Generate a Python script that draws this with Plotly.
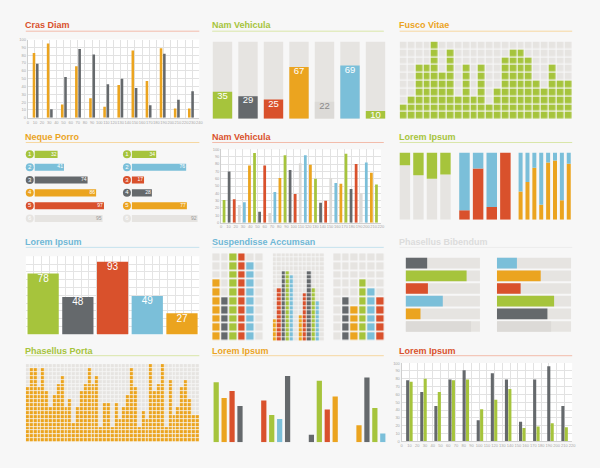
import plotly.graph_objects as go

W, H = 600, 468
GREEN = '#a6c43c'
ORANGE = '#eba41f'
GRAY = '#65696c'
RED = '#d9512c'
BLUE = '#7bbfd9'
LGRAY = '#e6e4e1'
LGRAY2 = '#dcdad7'
BG = '#f7f7f7'
TXT = '#9a9a9a'

# ---------------- data ----------------
cras_orange = [83, 95, 17, 66, 25, 14, 42, 86, 47, 89, 12, 12]
cras_gray = [69, 11, 52, 88, 81, 43, 50, 38, 16, 82, 23, 34]

nv_values = [35, 29, 25, 67, 22, 69, 10]
nv_colors = [GREEN, GRAY, RED, ORANGE, LGRAY2, BLUE, GREEN]

fusco_heights = [2, 3, 7, 7, 10, 6, 9, 3, 7, 3, 7, 2, 4, 8, 9, 9, 8, 5, 4, 7, 5, 5]

neque_left = [32, 41, 74, 86, 97, 95]
neque_left_colors = [GREEN, BLUE, GRAY, ORANGE, RED, LGRAY]
neque_right = [34, 76, 17, 28, 77, 92]
neque_right_colors = [GREEN, BLUE, RED, GRAY, ORANGE, LGRAY]
neque_numbers = ['1', '2', '3', '4', '5', '6']

nv2_values = [31, 70, 32, 24, 28, 78, 95, 15, 78, 13, 42, 61, 92, 72, 39, 81,
              92, 79, 60, 27, 30, 61, 54, 53, 94, 46, 80, 40, 82, 68, 52]
nv2_cycle = [GREEN, GRAY, RED, LGRAY2, BLUE, ORANGE]

lorem1_a = [81, 66, 61, 67]
lorem1_b = [14, 76, 19, 100]
lorem1_c = [42, 56, 77, 22, 85, 88, 29, 83]

lorem2_values = [78, 48, 93, 49, 27]
lorem2_colors = [GREEN, GRAY, RED, BLUE, ORANGE]

susp_a_heights = [7, 5, 10, 10, 9, 0]
susp_a_colors = [ORANGE, GRAY, GREEN, RED, BLUE, None]
susp_b_heights = [5, 12, 16, 16, 15, 0, 6, 11, 16, 12, 9, 0]
susp_b_colors = [ORANGE, RED, GRAY, GREEN, BLUE, None, ORANGE, RED, GRAY, GREEN, BLUE, None]
susp_c_heights = [0, 5, 4, 7, 6, 5]
susp_c_colors = [None, GRAY, ORANGE, GREEN, BLUE, RED]

phas_left = [29, 82, 30, 50, 20, 88]
phas_left_colors = [GRAY, GREEN, RED, BLUE, ORANGE, LGRAY2]
phas_right = [27, 59, 32, 77, 68, 73]
phas_right_colors = [BLUE, ORANGE, RED, GREEN, GRAY, LGRAY2]

porta_heights = [14, 19, 19, 14, 19, 13, 9, 12, 15, 17, 9, 11, 5, 9, 13, 15, 19, 15, 17, 4,
                 10, 10, 4, 10, 6, 9, 12, 19, 14, 4, 8, 6, 20, 13, 15, 20, 4, 16, 7, 9,
                 14, 16, 11, 7, 7]

lorem3_groups = [[88, 65, 75, 53], [61, 40, 34, 97], [11, 90, 48, 67], [25, 95, 50, 13]]
lorem3_colors = [[GREEN, ORANGE, RED, GRAY], [RED, GREEN, BLUE, GRAY],
                 [GRAY, GREEN, RED, ORANGE], [ORANGE, GRAY, GREEN, BLUE]]

lorem4_gray = [78, 63, 45, 79, 91, 27, 87, 79, 25, 79, 96, 45]
lorem4_green = [76, 80, 63, 78, 79, 41, 53, 67, 17, 19, 23, 18]

titles = [
    ('Cras Diam', RED, '#f2bcab', 25, 200, 22.5, 28.5),
    ('Nam Vehicula', GREEN, '#d9e6a8', 213, 386, 22.5, 28.5),
    ('Fusco Vitae', ORANGE, '#f6d7a0', 402, 576, 22.5, 28.5),
    ('Neque Porro', ORANGE, '#f6d7a0', 25, 200, 135.5, 141),
    ('Nam Vehicula', RED, '#f2bcab', 213, 386, 135.5, 141),
    ('Lorem Ipsum', GREEN, '#d9e6a8', 402, 576, 135.5, 141),
    ('Lorem Ipsum', '#6fb8d6', '#c6e3ee', 25, 200, 241.8, 247),
    ('Suspendisse Accumsan', '#6fb8d6', '#c6e3ee', 213, 386, 241.8, 247),
    ('Phasellus Bibendum', '#dcdcdc', '#ececec', 402, 576, 241.8, 247),
    ('Phasellus Porta', GREEN, '#d9e6a8', 25, 200, 351.5, 356.5),
    ('Lorem Ipsum', ORANGE, '#f6d7a0', 213, 386, 351.5, 356.5),
    ('Lorem Ipsum', RED, '#f2bcab', 402, 576, 351.5, 356.5),
]

# ---------------- helpers ----------------
fig = go.Figure()
axn = [0]
layout_upd = {}
shapes = []
annotations = []


def axes(px0, px1, py0, py1, xr, yr, xkw=None, ykw=None):
    axn[0] += 1
    n = axn[0]
    s = '' if n == 1 else str(n)
    xk = dict(domain=[px0 / W, px1 / W], range=xr, anchor='y' + s, showgrid=False,
              zeroline=False, showticklabels=False, ticks='', fixedrange=True, showline=False)
    yk = dict(domain=[1 - py1 / H, 1 - py0 / H], range=yr, anchor='x' + s, showgrid=False,
              zeroline=False, showticklabels=False, ticks='', fixedrange=True, showline=False)
    if xkw:
        xk.update(xkw)
    if ykw:
        yk.update(ykw)
    layout_upd['xaxis' + s] = xk
    layout_upd['yaxis' + s] = yk
    return 'x' + s, 'y' + s


def white_rect(px0, px1, py0, py1):
    shapes.append(dict(type='rect', xref='paper', yref='paper', layer='below',
                       x0=px0 / W, x1=px1 / W, y0=1 - py1 / H, y1=1 - py0 / H,
                       fillcolor='white', line=dict(width=0)))


def grid_axis_kw(dtick, labels=True):
    d = dict(showgrid=True, gridcolor='#e2e2e2', gridwidth=1, dtick=dtick, tick0=0,
             showline=True, linecolor='#cfcfcf', linewidth=1)
    if labels:
        d.update(showticklabels=True, tickfont=dict(size=4, color='#a8a8a8',
                 family='Liberation Sans'), tickangle=0, ticklen=0)
    return d


def discrete_scale(colors):
    n = len(colors)
    cs = []
    for i, c in enumerate(colors):
        cs.append([i / n, c])
        cs.append([(i + 1) / n, c])
    return cs


def cell_heatmap(xa, ya, heights, colors, nrows, gap):
    palette = [LGRAY] + [c for c in colors if c is not None]
    uniq = []
    for c in palette:
        if c not in uniq:
            uniq.append(c)
    idx = {c: i for i, c in enumerate(uniq)}
    z = []
    for r in range(nrows):
        row = []
        for h, c in zip(heights, colors):
            row.append(idx[c] if (c is not None and r < h) else 0)
        z.append(row)
    fig.add_trace(go.Heatmap(z=z, xaxis=xa, yaxis=ya, colorscale=discrete_scale(uniq),
                             zmin=-0.5, zmax=len(uniq) - 0.5, showscale=False,
                             xgap=gap, ygap=gap, hoverinfo='skip'))


FONT = 'Liberation Sans'

# ---------------- titles ----------------
for t, c, lc, x0, x1, ty, ly in titles:
    annotations.append(dict(text='<b>' + t + '</b>', x=(x0 - 2.5) / W, y=1 - ty / H, xref='paper',
                            yref='paper', xanchor='left', yanchor='middle', showarrow=False,
                            font=dict(size=9, color=c, family=FONT)))
    shapes.append(dict(type='line', xref='paper', yref='paper', x0=x0 / W, x1=x1 / W,
                       y0=1 - ly / H, y1=1 - ly / H, line=dict(color=lc, width=1)))

# ---------------- Panel 1: Cras Diam ----------------
white_rect(27, 200, 37, 116)
xa, ya = axes(27, 200, 37, 116, [0, 240], [0, 100], grid_axis_kw(10), grid_axis_kw(10))
pos = [11 + 19.75 * i for i in range(len(cras_orange))]
fig.add_trace(go.Bar(x=[p - 2.3 for p in pos], y=cras_orange, width=3.6, marker_color=ORANGE,
                     marker_line_width=0, xaxis=xa, yaxis=ya, hoverinfo='skip'))
fig.add_trace(go.Bar(x=[p + 2.3 for p in pos], y=cras_gray, width=3.6, marker_color=GRAY,
                     marker_line_width=0, xaxis=xa, yaxis=ya, hoverinfo='skip'))

# ---------------- Panel 2: Nam Vehicula columns ----------------
xa, ya = axes(210.5, 390.5, 39, 117, [-0.5, 6.5], [0, 100])
idx = list(range(len(nv_values)))
fig.add_trace(go.Bar(x=idx, y=[100] * len(idx), width=0.76, marker_color=LGRAY,
                     marker_line_width=0, xaxis=xa, yaxis=ya, hoverinfo='skip'))
fig.add_trace(go.Bar(x=idx, y=nv_values, width=0.76, marker_color=nv_colors,
                     marker_line_width=0, xaxis=xa, yaxis=ya, hoverinfo='skip'))
fig.add_trace(go.Scatter(x=idx, y=nv_values, mode='text', text=[str(v) for v in nv_values],
                         textposition='bottom center', xaxis=xa, yaxis=ya, hoverinfo='skip',
                         textfont=dict(size=9.5, family=FONT,
                                       color=['#8a8a8a' if c == LGRAY2 else 'white' for c in nv_colors])))

# ---------------- Panel 3: Fusco Vitae ----------------
xa, ya = axes(402, 576, 39, 118, [-0.5, len(fusco_heights) - 0.5], [-0.5, 9.5])
cell_heatmap(xa, ya, fusco_heights, [GREEN] * len(fusco_heights), 10, 1.2)

# ---------------- Panel 4: Neque Porro ----------------
for (vals, cols, px0) in [(neque_left, neque_left_colors, 34), (neque_right, neque_right_colors, 132)]:
    scale = 0.72
    xa, ya = axes(px0 - 12, px0 + 75, 146.5, 225, [-12 / scale, 75 / scale], [5.55, -0.5])
    rows = list(range(len(vals)))
    fig.add_trace(go.Bar(x=vals, y=rows, orientation='h', width=0.55, marker_color=cols,
                         marker_line_width=0, xaxis=xa, yaxis=ya, hoverinfo='skip'))
    fig.add_trace(go.Scatter(x=[v - 1.5 for v in vals], y=rows, mode='text',
                             text=[str(v) for v in vals], textposition='middle left',
                             textfont=dict(size=5, family=FONT,
                                           color=['#9a9a9a' if c == LGRAY else 'white' for c in cols]),
                             xaxis=xa, yaxis=ya, hoverinfo='skip', cliponaxis=False))
    fig.add_trace(go.Scatter(x=[-5 / scale] * len(vals), y=rows, mode='markers+text',
                             marker=dict(size=8, color=cols, line=dict(width=0)),
                             text=neque_numbers, textposition='middle center',
                             textfont=dict(size=6, color='white', family=FONT),
                             xaxis=xa, yaxis=ya, hoverinfo='skip', cliponaxis=False))

# ---------------- Panel 5: Nam Vehicula bars ----------------
white_rect(222, 383, 148, 222)
xa, ya = axes(222, 383, 148, 222, [0, 220], [0, 100], grid_axis_kw(10), grid_axis_kw(10))
nv2_x = [4 + 7 * i for i in range(len(nv2_values))]
nv2_c = [nv2_cycle[i % len(nv2_cycle)] for i in range(len(nv2_values))]
fig.add_trace(go.Bar(x=nv2_x, y=nv2_values, width=3.8, marker_color=nv2_c, marker_line_width=0,
                     xaxis=xa, yaxis=ya, hoverinfo='skip'))

# ---------------- Panel 6: Lorem Ipsum stacked ----------------
groups6 = [(lorem1_a, LGRAY, GREEN, GREEN, 400.5, 455, 0.77),
           (lorem1_b, RED, BLUE, RED, 460.5, 515.5, 0.77),
           (lorem1_c, ORANGE, BLUE, ORANGE, 520.5, 576, 0.58)]
for vals, low, high, tc, p0, p1, wd in groups6:
    xa, ya = axes(p0, p1, 151, 219, [-0.5, len(vals) - 0.5], [0, 100])
    ix = list(range(len(vals)))
    fig.add_trace(go.Bar(x=ix, y=vals, width=wd, marker_color=low, marker_line_width=0,
                         xaxis=xa, yaxis=ya, hoverinfo='skip'))
    fig.add_trace(go.Bar(x=ix, y=[100 - v for v in vals], base=vals, width=wd, marker_color=high,
                         marker_line_width=0, xaxis=xa, yaxis=ya, hoverinfo='skip'))
    fig.add_trace(go.Scatter(x=ix, y=[-2] * len(vals), mode='text', text=[str(v) for v in vals],
                             textposition='bottom center', textfont=dict(size=5, color=tc, family=FONT),
                             xaxis=xa, yaxis=ya, hoverinfo='skip', cliponaxis=False))

# ---------------- Panel 7: Lorem Ipsum big bars ----------------
white_rect(25, 200, 256, 335)
xa, ya = axes(25, 200, 256, 335, [-0.5, 4.5], [0, 100],
              dict(showgrid=True, gridcolor='#e4e4e4', dtick=5 / 22, tick0=-0.5),
              dict(showgrid=True, gridcolor='#e4e4e4', dtick=10, tick0=0))
ix = list(range(len(lorem2_values)))
fig.add_trace(go.Bar(x=ix, y=lorem2_values, width=0.9, marker_color=lorem2_colors,
                     marker_line_width=0, xaxis=xa, yaxis=ya, hoverinfo='skip'))
fig.add_trace(go.Scatter(x=ix, y=[v - 1 for v in lorem2_values], mode='text',
                         text=[str(v) for v in lorem2_values], textposition='bottom center',
                         textfont=dict(size=10, color='white', family=FONT),
                         xaxis=xa, yaxis=ya, hoverinfo='skip'))

# ---------------- Panel 8: Suspendisse Accumsan ----------------
xa, ya = axes(213, 265, 253, 342, [-0.5, 5.5], [-0.5, 9.5])
cell_heatmap(xa, ya, susp_a_heights, susp_a_colors, 10, 1.6)
xa, ya = axes(274, 326, 253, 342, [-0.5, 11.5], [-0.5, 19.5])
cell_heatmap(xa, ya, susp_b_heights, susp_b_colors, 20, 0.8)
xa, ya = axes(335, 387, 253, 342, [-0.5, 5.5], [-0.5, 9.5])
cell_heatmap(xa, ya, susp_c_heights, susp_c_colors, 10, 1.6)

# ---------------- Panel 9: Phasellus Bibendum ----------------
for vals, cols, px0 in [(phas_left, phas_left_colors, 408), (phas_right, phas_right_colors, 500)]:
    xa, ya = axes(px0, px0 + 75, 256.6, 333.4, [0, 100], [5.5, -0.5])
    rows = list(range(len(vals)))
    fig.add_trace(go.Bar(x=[100] * len(vals), y=rows, orientation='h', width=0.84,
                         marker_color=LGRAY, marker_line_width=0, xaxis=xa, yaxis=ya, hoverinfo='skip'))
    fig.add_trace(go.Bar(x=vals, y=rows, orientation='h', width=0.84, marker_color=cols,
                         marker_line_width=0, xaxis=xa, yaxis=ya, hoverinfo='skip'))
    fig.add_trace(go.Scatter(x=[-2] * len(vals), y=rows, mode='text', text=[str(v) for v in vals],
                             textposition='middle left', textfont=dict(size=5, color=TXT, family=FONT),
                             xaxis=xa, yaxis=ya, hoverinfo='skip', cliponaxis=False))

# ---------------- Panel 10: Phasellus Porta ----------------
xa, ya = axes(25, 200, 365, 444, [-0.5, len(porta_heights) - 0.5], [-0.5, 19.5])
cell_heatmap(xa, ya, porta_heights, [ORANGE] * len(porta_heights), 20, 0.8)

# ---------------- Panel 11: Lorem Ipsum grouped ----------------
xa, ya = axes(213, 389, 375, 444, [-0.5, 21.5], [0, 100])
for g, (vals, cols) in enumerate(zip(lorem3_groups, lorem3_colors)):
    fig.add_trace(go.Bar(x=[6 * g + j for j in range(len(vals))], y=vals, width=0.66,
                         marker_color=cols, marker_line_width=0, xaxis=xa, yaxis=ya, hoverinfo='skip'))

# ---------------- Panel 12: Lorem Ipsum pairs ----------------
white_rect(404, 576, 364, 443)
xa, ya = axes(404, 576, 364, 443, [0, 220], [0, 100], grid_axis_kw(10), grid_axis_kw(10))
pos = [10 + 18.2 * i for i in range(len(lorem4_gray))]
fig.add_trace(go.Bar(x=[p - 2.2 for p in pos], y=lorem4_gray, width=4, marker_color=GRAY,
                     marker_line_width=0, xaxis=xa, yaxis=ya, hoverinfo='skip'))
fig.add_trace(go.Bar(x=[p + 2.2 for p in pos], y=lorem4_green, width=4, marker_color=GREEN,
                     marker_line_width=0, xaxis=xa, yaxis=ya, hoverinfo='skip'))

fig.update_layout(layout_upd)
fig.update_layout(width=W, height=H, margin=dict(l=0, r=0, t=0, b=0), showlegend=False,
                  paper_bgcolor=BG, plot_bgcolor=BG, barmode='overlay',
                  shapes=shapes, annotations=annotations, font=dict(family=FONT))
fig.write_html('out.html', config={'displayModeBar': False},
               post_script="document.body.style.margin='0';document.body.style.overflow='hidden';document.body.style.background='" + BG + "';")
